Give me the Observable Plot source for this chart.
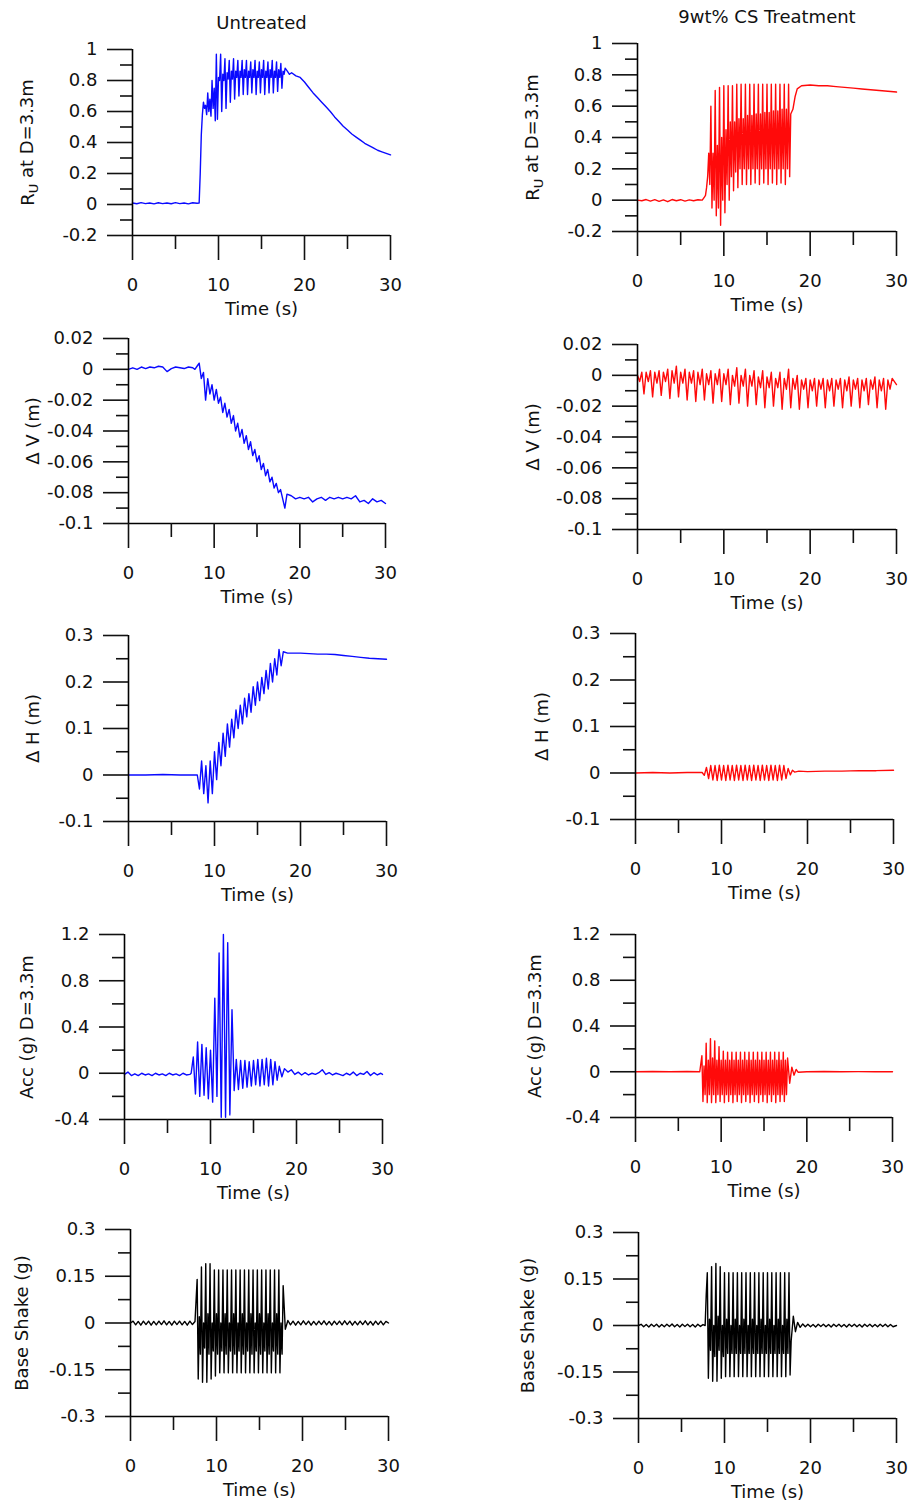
<!DOCTYPE html>
<html><head><meta charset="utf-8">
<script src="https://cdn.jsdelivr.net/npm/d3@7"></script>
<script src="https://cdn.jsdelivr.net/npm/@observablehq/plot@0.6"></script>
<style>
html,body{margin:0;padding:0;background:#fff;}
#page{position:relative;width:911px;height:1501px;overflow:hidden;background:#fff;}
#page svg{position:absolute;overflow:visible;}
</style></head><body><div id="page"></div>
<script>
// ---------- shared axis values ----------
const xTicks = [0, 10, 20, 30];
const xMinorTicks = [5, 15, 25];
const ruTicks = [-0.2, 0, 0.2, 0.4, 0.6, 0.8, 1];
const ruMinor = [-0.1, 0.1, 0.3, 0.5, 0.7, 0.9];
const dvTicks = [-0.1, -0.08, -0.06, -0.04, -0.02, 0, 0.02];
const dvMinor = [-0.09, -0.07, -0.05, -0.03, -0.01, 0.01];
const dhTicks = [-0.1, 0, 0.1, 0.2, 0.3];
const dhMinor = [-0.05, 0.05, 0.15, 0.25];
const accTicks = [-0.4, 0, 0.4, 0.8, 1.2];
const accMinor = [-0.2, 0.2, 0.6, 1.0];
const baseTicks = [-0.3, -0.15, 0, 0.15, 0.3];
const baseMinor = [-0.225, -0.075, 0.075, 0.225];

// ---------- sample times of the shaking phase ----------
const shakeT = [7.75,8,8.25,8.5,8.75,9,9.25,9.5,9.75,10,10.25,10.5,10.75,11,11.25,11.5,11.75,12,12.25,12.5,12.75,13,13.25,13.5,13.75,14,14.25,14.5,14.75,15,15.25,15.5,15.75,16,16.25,16.5,16.75,17,17.25,17.5,17.75];
const shakeTm = [7.875,8.125,8.375,8.625,8.875,9.125,9.375,9.625,9.875,10.125,10.375,10.625,10.875,11.125,11.375,11.625,11.875,12.125,12.375,12.625,12.875,13.125,13.375,13.625,13.875,14.125,14.375,14.625,14.875,15.125,15.375,15.625,15.875,16.125,16.375,16.625,16.875,17.125,17.375,17.625];

// ---------- Untreated: Ru ----------
const ruUPre = [[0,0.01],[0.5,0.005],[1,0.012],[1.5,0.006],[2,0.01],[2.5,0.004],[3,0.011],[3.5,0.006],[4,0.01],[4.5,0.005],[5,0.012],[5.5,0.006],[6,0.01],[6.5,0.004],[7,0.011],[7.5,0.008]];
const ruUShake = [0.01,0.45,0.66,0.64,0.72,0.68,0.8,0.75,0.97,0.82,0.97,0.84,0.94,0.85,0.93,0.86,0.94,0.86,0.93,0.86,0.93,0.87,0.93,0.86,0.92,0.87,0.93,0.86,0.92,0.87,0.93,0.86,0.92,0.87,0.93,0.86,0.92,0.87,0.91,0.86,0.88];
const ruUMid = [0.2,0.58,0.62,0.58,0.6,0.57,0.62,0.54,0.55,0.8,0.6,0.8,0.62,0.81,0.66,0.81,0.68,0.82,0.7,0.82,0.71,0.82,0.71,0.82,0.72,0.82,0.71,0.82,0.72,0.82,0.71,0.82,0.72,0.82,0.72,0.82,0.73,0.82,0.75,0.84];
const ruUPost = [[18,0.86],[18.25,0.84],[18.5,0.85],[19,0.83],[19.5,0.82],[20,0.79],[20.5,0.755],[21,0.72],[21.5,0.69],[22,0.66],[22.5,0.63],[23,0.6],[23.5,0.565],[24,0.535],[24.5,0.505],[25,0.48],[25.5,0.455],[26,0.435],[26.5,0.415],[27,0.395],[27.5,0.38],[28,0.365],[28.5,0.35],[29,0.34],[29.5,0.33],[30,0.32]];

// ---------- CS treatment: Ru ----------
const ruCPre = [[0,0],[0.5,-0.004],[1,0.004],[1.5,-0.006],[2,0.003],[2.5,-0.008],[3,0.002],[3.5,-0.01],[4,0.004],[4.5,-0.004],[5,0.003],[5.5,-0.006],[6,0.002],[6.5,-0.004],[7,0.003],[7.5,0]];
const ruCShake = [0.02,0.08,0.3,0.6,0.3,0.7,0.35,0.72,0.4,0.73,0.45,0.73,0.5,0.73,0.5,0.74,0.52,0.74,0.52,0.74,0.54,0.74,0.54,0.74,0.55,0.74,0.55,0.74,0.56,0.74,0.56,0.74,0.57,0.74,0.57,0.74,0.58,0.74,0.58,0.74,0.55];
const ruCMid = [0.03,0.15,0.1,-0.05,0.0,-0.1,-0.05,-0.16,0.0,-0.08,0.1,0.0,0.15,0.06,0.18,0.08,0.2,0.1,0.2,0.1,0.2,0.1,0.2,0.11,0.2,0.1,0.2,0.11,0.2,0.1,0.2,0.11,0.2,0.1,0.2,0.11,0.2,0.1,0.2,0.15];
const ruCPost = [[18,0.58],[18.25,0.66],[18.5,0.71],[19,0.73],[20,0.735],[21,0.73],[22,0.73],[23,0.725],[24,0.72],[25,0.715],[26,0.71],[27,0.705],[28,0.7],[29,0.695],[30,0.69]];

// ---------- Untreated: dV ----------
const dvUPre = [[0,0],[0.5,0.001],[1,0],[1.5,0.0015],[2,0.0005],[2.5,0.0015],[3,0.001],[3.5,0.002],[4,0.0015],[4.5,-0.0015],[5,0.0005],[5.5,0.0015],[6,0.001],[6.5,0.0005],[7,0.0015],[7.5,0.001]];
const dvUShake = [0.0,0.002,0.004,-0.006,-0.002,-0.02,-0.006,-0.016,-0.01,-0.02,-0.013,-0.022,-0.018,-0.028,-0.022,-0.031,-0.026,-0.035,-0.03,-0.04,-0.035,-0.044,-0.039,-0.048,-0.043,-0.052,-0.047,-0.056,-0.052,-0.06,-0.056,-0.065,-0.061,-0.069,-0.065,-0.073,-0.07,-0.077,-0.074,-0.08,-0.078];
const dvUPost = [[18,-0.084],[18.25,-0.09],[18.5,-0.081],[19,-0.082],[19.5,-0.084],[20,-0.083],[20.5,-0.084],[21,-0.083],[21.5,-0.086],[22,-0.084],[22.5,-0.083],[23,-0.085],[23.5,-0.083],[24,-0.084],[24.5,-0.083],[25,-0.084],[25.5,-0.083],[26,-0.084],[26.5,-0.082],[27,-0.086],[27.5,-0.085],[28,-0.087],[28.5,-0.084],[29,-0.086],[29.5,-0.085],[30,-0.087]];

// ---------- CS treatment: dV ----------
const dvCUpper = [[0,0],[0.5,0.002],[1,0.002],[1.5,0.003],[2,0.002],[2.5,0.003],[3,0.002],[3.5,0.004],[4,0.003],[4.5,0.006],[5,0.002],[5.5,0.004],[6,0.002],[6.5,0.003],[7,0.002],[7.5,0.004],[8,0.001],[8.5,0.003],[9,0.001],[9.5,0.004],[10,0.001],[10.5,0.004],[11,0.0],[11.5,0.005],[12,0.0],[12.5,0.004],[13,0.0],[13.5,0.003],[14,-0.001],[14.5,0.003],[15,-0.001],[15.5,0.002],[16,-0.002],[16.5,0.002],[17,-0.002],[17.5,0.004],[18,-0.002],[18.5,0.0],[19,-0.003],[19.5,-0.002],[20,-0.003],[20.5,-0.002],[21,-0.003],[21.5,-0.002],[22,-0.003],[22.5,-0.002],[23,-0.003],[23.5,-0.002],[24,-0.003],[24.5,-0.001],[25,-0.003],[25.5,-0.002],[26,-0.003],[26.5,-0.002],[27,-0.003],[27.5,-0.001],[28,-0.003],[28.5,-0.002],[29,-0.003],[29.5,-0.002],[30,-0.006]];
const dvCLower = [[0.25,-0.004],[1.25,-0.004],[2.25,-0.005],[3.25,-0.004],[4.25,-0.005],[5.25,-0.005],[6.25,-0.005],[7.25,-0.006],[8.25,-0.006],[9.25,-0.006],[10.25,-0.006],[11.25,-0.007],[12.25,-0.007],[13.25,-0.007],[14.25,-0.008],[15.25,-0.008],[16.25,-0.008],[17.25,-0.009],[18.25,-0.009],[19.25,-0.009],[20.25,-0.01],[21.25,-0.009],[22.25,-0.01],[23.25,-0.009],[24.25,-0.01],[25.25,-0.009],[26.25,-0.01],[27.25,-0.009],[28.25,-0.01],[29.25,-0.009]];
const dvCSpikes = [[0.75,-0.012],[1.75,-0.014],[2.75,-0.013],[3.75,-0.015],[4.75,-0.014],[5.75,-0.016],[6.75,-0.017],[7.75,-0.016],[8.75,-0.018],[9.75,-0.017],[10.75,-0.019],[11.75,-0.018],[12.75,-0.02],[13.75,-0.019],[14.75,-0.021],[15.75,-0.02],[16.75,-0.022],[17.75,-0.021],[18.75,-0.022],[19.75,-0.021],[20.75,-0.02],[21.75,-0.021],[22.75,-0.02],[23.75,-0.021],[24.75,-0.02],[25.75,-0.021],[26.75,-0.019],[27.75,-0.021],[28.75,-0.022]];

// ---------- Untreated: dH ----------
const dhUPre = [[0,0],[2,0],[4,0.001],[6,0],[7.5,0]];
const dhUShake = [0,0.0,-0.03,0.03,-0.04,0.02,-0.06,0.03,-0.04,0.05,-0.01,0.07,0.02,0.09,0.04,0.11,0.06,0.12,0.08,0.14,0.1,0.15,0.11,0.165,0.125,0.175,0.135,0.19,0.15,0.2,0.16,0.21,0.175,0.225,0.185,0.24,0.2,0.25,0.215,0.27,0.235];
const dhUPost = [[18,0.265],[18.5,0.262],[19,0.262],[20,0.262],[21,0.261],[22,0.26],[23,0.26],[24,0.259],[25,0.257],[26,0.255],[27,0.253],[28,0.251],[29,0.25],[30,0.249]];

// ---------- CS treatment: dH ----------
const dhCPre = [[0,0],[2,0.001],[4,0],[6,0.001],[7.5,0.001]];
const dhCShake = [0.001,-0.005,0.012,-0.012,0.016,-0.015,0.016,-0.016,0.017,-0.015,0.016,-0.016,0.017,-0.015,0.016,-0.016,0.017,-0.015,0.016,-0.016,0.017,-0.015,0.016,-0.016,0.017,-0.015,0.016,-0.016,0.017,-0.015,0.016,-0.016,0.017,-0.015,0.016,-0.016,0.017,-0.015,0.016,-0.012,0.01];
const dhCPost = [[18,-0.004],[18.25,0.006],[18.5,0.002],[19,0.004],[20,0.003],[22,0.004],[24,0.004],[26,0.005],[28,0.005],[30,0.006]];

// ---------- Untreated: acceleration ----------
const accUPre = [[0,-0.01],[0.4,0.01],[0.8,-0.02],[1.2,-0.005],[1.6,-0.02],[2,0.0],[2.4,-0.015],[2.8,-0.005],[3.2,-0.02],[3.6,0.0],[4,-0.015],[4.4,-0.005],[4.8,-0.02],[5.2,0.0],[5.6,-0.015],[6,-0.005],[6.4,-0.02],[6.8,0.0],[7.2,-0.015],[7.6,-0.01]];
const accUShake = [0.0,0.14,-0.18,0.27,-0.2,0.25,-0.19,0.22,-0.22,0.2,-0.25,0.65,-0.2,1.04,-0.38,1.2,-0.38,1.13,-0.36,0.55,-0.15,0.12,-0.14,0.11,-0.13,0.11,-0.12,0.1,-0.11,0.11,-0.1,0.12,-0.11,0.12,-0.1,0.13,-0.11,0.12,-0.1,0.1,-0.06];
const accUPost = [[18,0.06],[18.3,-0.03],[18.6,0.04],[19,0.01],[19.4,0.03],[19.8,-0.01],[20.2,0.01],[20.6,-0.015],[21,0.005],[21.4,-0.015],[21.8,0.0],[22.2,-0.01],[22.6,0.005],[23,0.03],[23.4,-0.01],[23.8,0.005],[24.2,-0.015],[24.6,0.0],[25,-0.01],[25.4,-0.02],[25.8,0.0],[26.2,-0.015],[26.6,0.01],[27,-0.02],[27.4,0.0],[27.8,-0.01],[28.2,0.015],[28.6,-0.02],[29,0.005],[29.4,-0.015],[29.8,0.0],[30,-0.01]];

// ---------- CS treatment: acceleration ----------
const accCPre = [[0,0],[2,0.002],[4,0],[6,0.002],[7.5,0]];
const accCShake = [0.14,0.05,0.25,0.1,0.29,0.12,0.27,0.1,0.22,0.1,0.18,0.1,0.17,0.1,0.17,0.1,0.17,0.1,0.17,0.1,0.17,0.1,0.17,0.1,0.17,0.1,0.17,0.1,0.17,0.1,0.17,0.1,0.17,0.1,0.17,0.1,0.17,0.1,0.17,0.1,0.12];
const accCMid = [-0.26,-0.2,-0.27,-0.2,-0.27,-0.2,-0.27,-0.2,-0.26,-0.2,-0.27,-0.2,-0.26,-0.2,-0.27,-0.2,-0.26,-0.2,-0.27,-0.2,-0.26,-0.2,-0.27,-0.2,-0.26,-0.2,-0.27,-0.2,-0.26,-0.2,-0.27,-0.2,-0.26,-0.2,-0.27,-0.2,-0.26,-0.2,-0.26,-0.2];
const accCPost = [[18,-0.1],[18.25,0.04],[18.5,-0.03],[18.75,0.02],[19,-0.005],[20,0.0],[22,0.002],[24,0.0],[26,0.001],[28,0.0],[30,0.0]];

// ---------- Untreated: base shake ----------
const baseUPre = [[0,0.0],[0.3,0.006],[0.6,-0.006],[0.9,0.005],[1.2,-0.007],[1.5,0.006],[1.8,-0.005],[2.1,0.006],[2.4,-0.007],[2.7,0.005],[3,-0.006],[3.3,0.006],[3.6,-0.005],[3.9,0.007],[4.2,-0.006],[4.5,0.005],[4.8,-0.007],[5.1,0.006],[5.4,-0.005],[5.7,0.006],[6,-0.006],[6.3,0.005],[6.6,-0.007],[6.9,0.006],[7.2,-0.005],[7.5,0.005]];
const baseUShake = [0.14,0.02,0.18,0.0,0.19,0.03,0.19,0.0,0.17,0.03,0.17,0.0,0.17,0.03,0.17,0.0,0.17,0.03,0.17,0.0,0.17,0.03,0.17,0.0,0.17,0.03,0.17,0.0,0.17,0.03,0.17,0.0,0.17,0.03,0.17,0.0,0.17,0.03,0.17,0.0,0.12];
const baseUMid = [-0.18,-0.1,-0.19,-0.08,-0.19,-0.1,-0.18,-0.09,-0.17,-0.1,-0.16,-0.09,-0.16,-0.1,-0.16,-0.09,-0.16,-0.1,-0.16,-0.09,-0.16,-0.1,-0.16,-0.09,-0.16,-0.1,-0.16,-0.09,-0.16,-0.1,-0.16,-0.09,-0.16,-0.1,-0.16,-0.09,-0.16,-0.1,-0.16,-0.1];
const baseUPost = [[18,-0.02],[18.3,0.008],[18.6,-0.006],[18.9,0.006],[19.2,-0.007],[19.5,0.005],[19.8,-0.006],[20.1,0.007],[20.4,-0.005],[20.7,0.006],[21,-0.007],[21.3,0.005],[21.6,-0.006],[21.9,0.006],[22.2,-0.005],[22.5,0.007],[22.8,-0.006],[23.1,0.005],[23.4,-0.007],[23.7,0.006],[24,-0.005],[24.3,0.006],[24.6,-0.006],[24.9,0.007],[25.2,-0.005],[25.5,0.006],[25.8,-0.007],[26.1,0.005],[26.4,-0.006],[26.7,0.006],[27,-0.005],[27.3,0.007],[27.6,-0.006],[27.9,0.005],[28.2,-0.007],[28.5,0.006],[28.8,-0.005],[29.1,0.006],[29.4,-0.006],[29.7,0.005],[30,0.0]];

// ---------- CS treatment: base shake ----------
const baseCPre = [[0,0.0],[0.3,0.004],[0.6,-0.004],[0.9,0.003],[1.2,-0.005],[1.5,0.004],[1.8,-0.003],[2.1,0.004],[2.4,-0.005],[2.7,0.003],[3,-0.004],[3.3,0.004],[3.6,-0.003],[3.9,0.005],[4.2,-0.004],[4.5,0.003],[4.8,-0.005],[5.1,0.004],[5.4,-0.003],[5.7,0.004],[6,-0.004],[6.3,0.003],[6.6,-0.005],[6.9,0.004],[7.2,-0.003],[7.5,0.003]];
const baseCShake = [0.0,0.17,0.02,0.19,0.0,0.2,0.03,0.19,0.0,0.17,0.02,0.17,0.0,0.17,0.02,0.17,0.0,0.17,0.02,0.17,0.0,0.17,0.02,0.17,0.0,0.17,0.02,0.17,0.0,0.17,0.02,0.17,0.0,0.17,0.02,0.17,0.0,0.17,0.02,0.17,-0.05];
const baseCMid = [0.1,-0.17,-0.08,-0.18,-0.1,-0.18,-0.08,-0.17,-0.1,-0.165,-0.09,-0.165,-0.09,-0.165,-0.09,-0.165,-0.09,-0.165,-0.09,-0.165,-0.09,-0.165,-0.09,-0.165,-0.09,-0.165,-0.09,-0.165,-0.09,-0.165,-0.09,-0.165,-0.09,-0.165,-0.09,-0.165,-0.09,-0.165,-0.09,-0.16];
const baseCPost = [[18,0.03],[18.25,-0.02],[18.5,0.01],[18.8,-0.006],[19.1,0.005],[19.4,-0.004],[19.7,0.004],[20,-0.004],[20.3,0.003],[20.6,-0.005],[20.9,0.004],[21.2,-0.003],[21.5,0.004],[21.8,-0.004],[22.1,0.003],[22.4,-0.005],[22.7,0.004],[23,-0.003],[23.3,0.004],[23.6,-0.004],[23.9,0.003],[24.2,-0.005],[24.5,0.004],[24.8,-0.003],[25.1,0.004],[25.4,-0.004],[25.7,0.003],[26,-0.005],[26.3,0.004],[26.6,-0.003],[26.9,0.004],[27.2,-0.004],[27.5,0.003],[27.8,-0.004],[28.1,0.004],[28.4,-0.003],[28.7,0.004],[29,-0.004],[29.3,0.003],[29.6,-0.004],[30,0.0]];

// ---------- build series tables (merge by time) ----------
const series = (pre, shake, post, mid = []) =>
  d3.sort([...pre, ...d3.zip(shakeT, shake), ...d3.zip(shakeTm, mid), ...post], d => d[0]);
const dataRuU = series(ruUPre, ruUShake, ruUPost, ruUMid);
const dataRuC = series(ruCPre, ruCShake, ruCPost, ruCMid);
const dataDvU = series(dvUPre, dvUShake, dvUPost);
const dataDvC = d3.sort([...dvCUpper, ...dvCLower, ...dvCSpikes], d => d[0]);
const dataDhU = series(dhUPre, dhUShake, dhUPost);
const dataDhC = series(dhCPre, dhCShake, dhCPost);
const dataAccU = series(accUPre, accUShake, accUPost);
const dataAccC = series(accCPre, accCShake, accCPost, accCMid);
const dataBaseU = series(baseUPre, baseUShake, baseUPost, baseUMid);
const dataBaseC = series(baseCPre, baseCShake, baseCPost, baseCMid);

const BLUE = "#0a0aff", RED = "#ff0a0a", BLACK = "#000";
const FONT = "DejaVu Sans";
const FS = 18;

const panels = [
  {data: dataRuU, color: BLUE, label: "RU at D=3.3m", dom: [-0.2, 1], maj: ruTicks, min: ruMinor, x0: 132, x1: 390, yT: 49, yB: 235, ldx: 104, title: "Untreated"},
  {data: dataRuC, color: RED, label: "RU at D=3.3m", dom: [-0.2, 1], maj: ruTicks, min: ruMinor, x0: 637, x1: 896, yT: 43, yB: 231, ldx: 104, title: "9wt% CS Treatment"},
  {data: dataDvU, color: BLUE, label: "Δ V (m)", dom: [-0.1, 0.02], maj: dvTicks, min: dvMinor, x0: 128, x1: 385, yT: 338, yB: 523, ldx: 95},
  {data: dataDvC, color: RED, label: "Δ V (m)", dom: [-0.1, 0.02], maj: dvTicks, min: dvMinor, x0: 637, x1: 896, yT: 344, yB: 529, ldx: 104},
  {data: dataDhU, color: BLUE, label: "Δ H (m)", dom: [-0.1, 0.3], maj: dhTicks, min: dhMinor, x0: 128, x1: 386, yT: 635, yB: 821, ldx: 95},
  {data: dataDhC, color: RED, label: "Δ H (m)", dom: [-0.1, 0.3], maj: dhTicks, min: dhMinor, x0: 635, x1: 893, yT: 633, yB: 819, ldx: 93},
  {data: dataAccU, color: BLUE, label: "Acc (g) D=3.3m", dom: [-0.4, 1.2], maj: accTicks, min: accMinor, x0: 124, x1: 382, yT: 934, yB: 1119, ldx: 97},
  {data: dataAccC, color: RED, label: "Acc (g) D=3.3m", dom: [-0.4, 1.2], maj: accTicks, min: accMinor, x0: 635, x1: 892, yT: 934, yB: 1117, ldx: 100},
  {data: dataBaseU, color: BLACK, label: "Base Shake (g)", dom: [-0.3, 0.3], maj: baseTicks, min: baseMinor, x0: 130, x1: 388, yT: 1229, yB: 1416, ldx: 108},
  {data: dataBaseC, color: BLACK, label: "Base Shake (g)", dom: [-0.3, 0.3], maj: baseTicks, min: baseMinor, x0: 638, x1: 896, yT: 1232, yB: 1418, ldx: 110}
];

const page = document.getElementById("page");
const AX = 1.6;

for (const p of panels) {
  const mL = 125, mR = 25, mT = p.title ? 45 : 12, mB = 88;
  const w = p.x1 - p.x0 + mL + mR;
  const h = p.yB - p.yT + mT + mB;
  const marks = [
    Plot.line(p.data, {x: d => d[0], y: d => d[1], stroke: p.color, strokeWidth: 1.4}),
    Plot.ruleX([0], {strokeWidth: AX, stroke: "#000"}),
    Plot.ruleY([p.dom[0]], {strokeWidth: AX, stroke: "#000"}),
    Plot.axisX(xTicks, {tickSize: 25, tickPadding: 18, strokeWidth: AX, tickFormat: d => String(d), label: null, fontSize: FS}),
    Plot.axisX(xMinorTicks, {tickSize: 14, strokeWidth: AX, tickFormat: () => "", label: null}),
    Plot.axisY(p.maj, {tickSize: 25, tickPadding: 10, strokeWidth: AX, tickFormat: d => String(d), label: null, fontSize: FS}),
    Plot.axisY(p.min, {tickSize: 12, strokeWidth: AX, tickFormat: () => "", label: null}),
    Plot.text(["Time (s)"], {text: d => d, frameAnchor: "bottom", dy: 79, textAnchor: "middle", fontSize: FS}),
    Plot.text([p.label], {text: d => d, frameAnchor: "left", dx: -p.ldx, rotate: -90, textAnchor: "middle", lineAnchor: "middle", fontSize: FS})
  ];
  if (p.title) marks.push(Plot.text([p.title], {text: d => d, frameAnchor: "top", dy: -33, textAnchor: "middle", fontSize: FS}));
  const svg = Plot.plot({
    width: w, height: h,
    marginLeft: mL, marginRight: mR, marginTop: mT, marginBottom: mB,
    x: {domain: [0, 30], label: null},
    y: {domain: p.dom, label: null},
    style: {background: "transparent", fontFamily: FONT, fontSize: FS + "px", color: "#111", overflow: "visible", maxWidth: "none"},
    marks
  });
  svg.style.position = "absolute";
  svg.style.left = (p.x0 - mL) + "px";
  svg.style.top = (p.yT - mT) + "px";
  // subscript U in R_U
  svg.querySelectorAll("text").forEach(t => {
    if (t.textContent === "RU at D=3.3m") {
      t.textContent = "";
      const ns = "http://www.w3.org/2000/svg";
      const a = document.createElementNS(ns, "tspan"); a.textContent = "R";
      const b = document.createElementNS(ns, "tspan"); b.textContent = "U"; b.setAttribute("dy", "0.3em"); b.setAttribute("font-size", "13");
      const c = document.createElementNS(ns, "tspan"); c.textContent = " at D=3.3m"; c.setAttribute("dy", "-0.3em");
      t.append(a, b, c);
    }
  });
  page.appendChild(svg);
}
</script></body></html>
